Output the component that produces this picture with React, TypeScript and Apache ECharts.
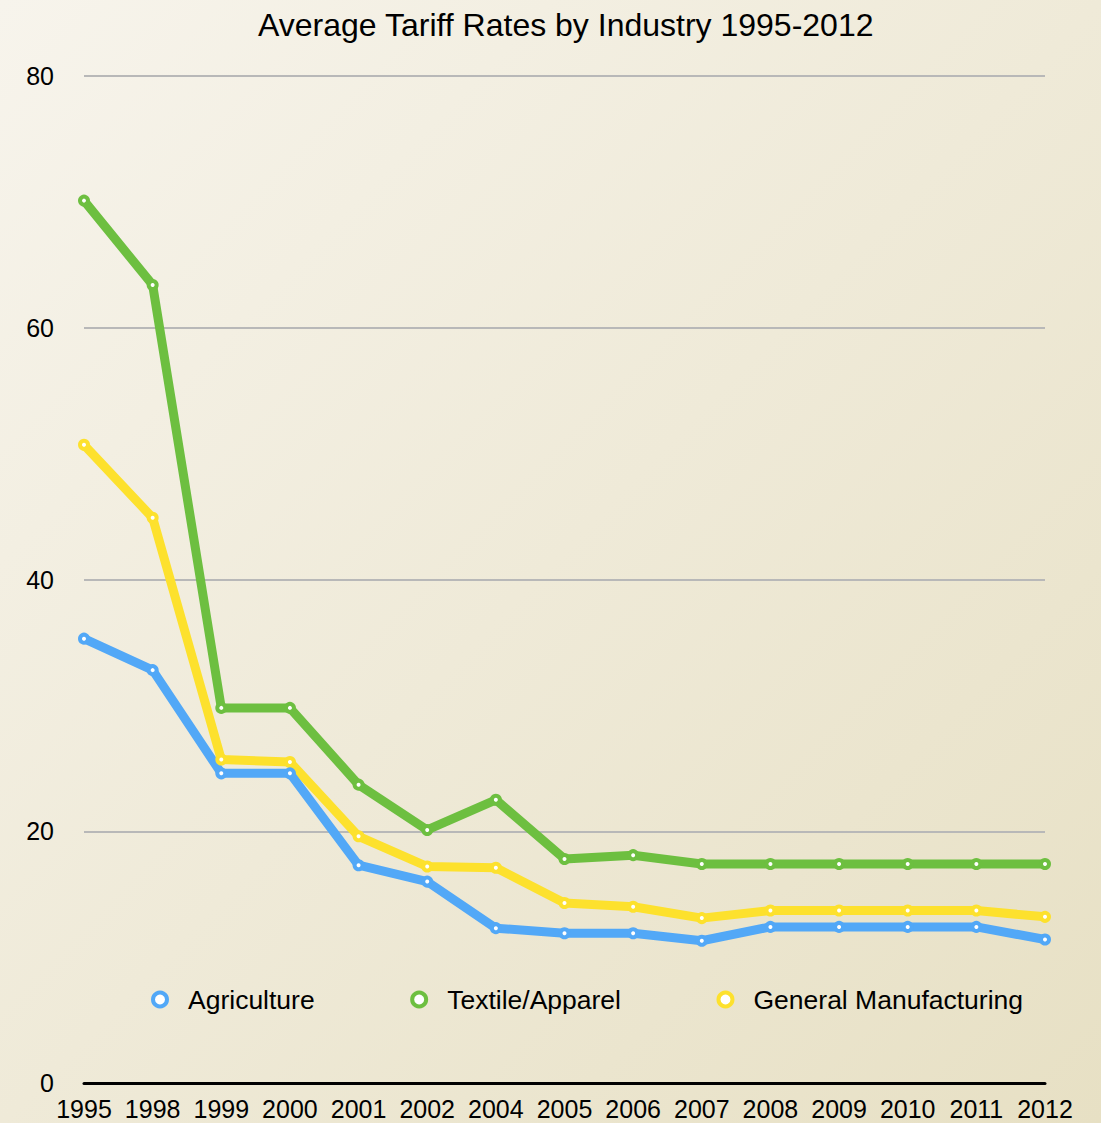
import React, { useEffect, useRef } from "react";
import * as echarts from "echarts";

const years = ["1995", "1998", "1999", "2000", "2001", "2002", "2004", "2005", "2006", "2007", "2008", "2009", "2010", "2011", "2012"];
const agriculture = [35.3, 32.8, 24.6, 24.6, 17.3, 16.0, 12.3, 11.9, 11.9, 11.3, 12.4, 12.4, 12.4, 12.4, 11.4];
const textile = [70.1, 63.4, 29.8, 29.8, 23.7, 20.1, 22.5, 17.8, 18.1, 17.4, 17.4, 17.4, 17.4, 17.4, 17.4];
const general = [50.7, 44.9, 25.7, 25.5, 19.6, 17.2, 17.1, 14.3, 14.0, 13.1, 13.7, 13.7, 13.7, 13.7, 13.2];
const yTicks = [0, 20, 40, 60, 80];

const BLUE = "#52a8f7";
const GREEN = "#6dbf40";
const YELLOW = "#fde12d";
const FONT = "'Liberation Sans', Arial, Helvetica, sans-serif";

export default function App() {
  const ref = useRef<HTMLDivElement>(null);
  useEffect(() => {
    if (!ref.current) return;
    const chart = echarts.init(ref.current, undefined, { renderer: "svg" });
    const mk = (name: string, data: number[], color: string) => ({
      name,
      type: "line",
      data,
      symbol: "circle",
      symbolSize: 8,
      showSymbol: true,
      lineStyle: { color, width: 9 },
      itemStyle: { color: "#ffffff", borderColor: color, borderWidth: 4 },
    });
    chart.setOption({
      animation: false,
      backgroundColor: {
        type: "linear",
        x: 0, y: 0, x2: 1, y2: 1,
        colorStops: [
          { offset: 0, color: "#f7f4ec" },
          { offset: 1, color: "#e7e0c4" },
        ],
      },
      title: {
        text: "Average Tariff Rates by Industry 1995-2012",
        left: 253,
        top: 4,
        textStyle: { fontFamily: FONT, fontSize: 32, fontWeight: "normal", color: "#000" },
      },
      legend: {
        left: 146,
        top: 981,
        itemGap: 95.5,
        itemWidth: 14,
        itemHeight: 14,
        icon: "circle",
        textStyle: { fontFamily: FONT, fontSize: 26.5, color: "#000", padding: [0, 0, 0, 16] },
        data: [
          { name: "Agriculture", itemStyle: { color: "#fff", borderColor: BLUE, borderWidth: 4 } },
          { name: "Textile/Apparel", itemStyle: { color: "#fff", borderColor: GREEN, borderWidth: 4 } },
          { name: "General Manufacturing", itemStyle: { color: "#fff", borderColor: YELLOW, borderWidth: 4 } },
        ],
      },
      grid: { left: 84, right: 56, top: 76, bottom: 40, containLabel: false },
      xAxis: {
        type: "category",
        data: years,
        boundaryGap: false,
        axisLine: { lineStyle: { color: "#000", width: 3 } },
        axisTick: { show: false },
        axisLabel: { fontFamily: FONT, fontSize: 25, color: "#000", margin: 13, interval: 0 },
      },
      yAxis: {
        type: "value",
        min: yTicks[0],
        max: yTicks[yTicks.length - 1],
        interval: 20,
        axisLine: { show: false },
        axisTick: { show: false },
        axisLabel: { fontFamily: FONT, fontSize: 25, color: "#000", margin: 30 },
        splitLine: { lineStyle: { color: "#b8b8b8", width: 2 } },
      },
      series: [
        mk("General Manufacturing", general, YELLOW),
        mk("Textile/Apparel", textile, GREEN),
        mk("Agriculture", agriculture, BLUE),
      ],
    });
    return () => chart.dispose();
  }, []);
  return <div ref={ref} style={{ position: "fixed", left: 0, top: 0, width: 1101, height: 1123 }} />;
}
